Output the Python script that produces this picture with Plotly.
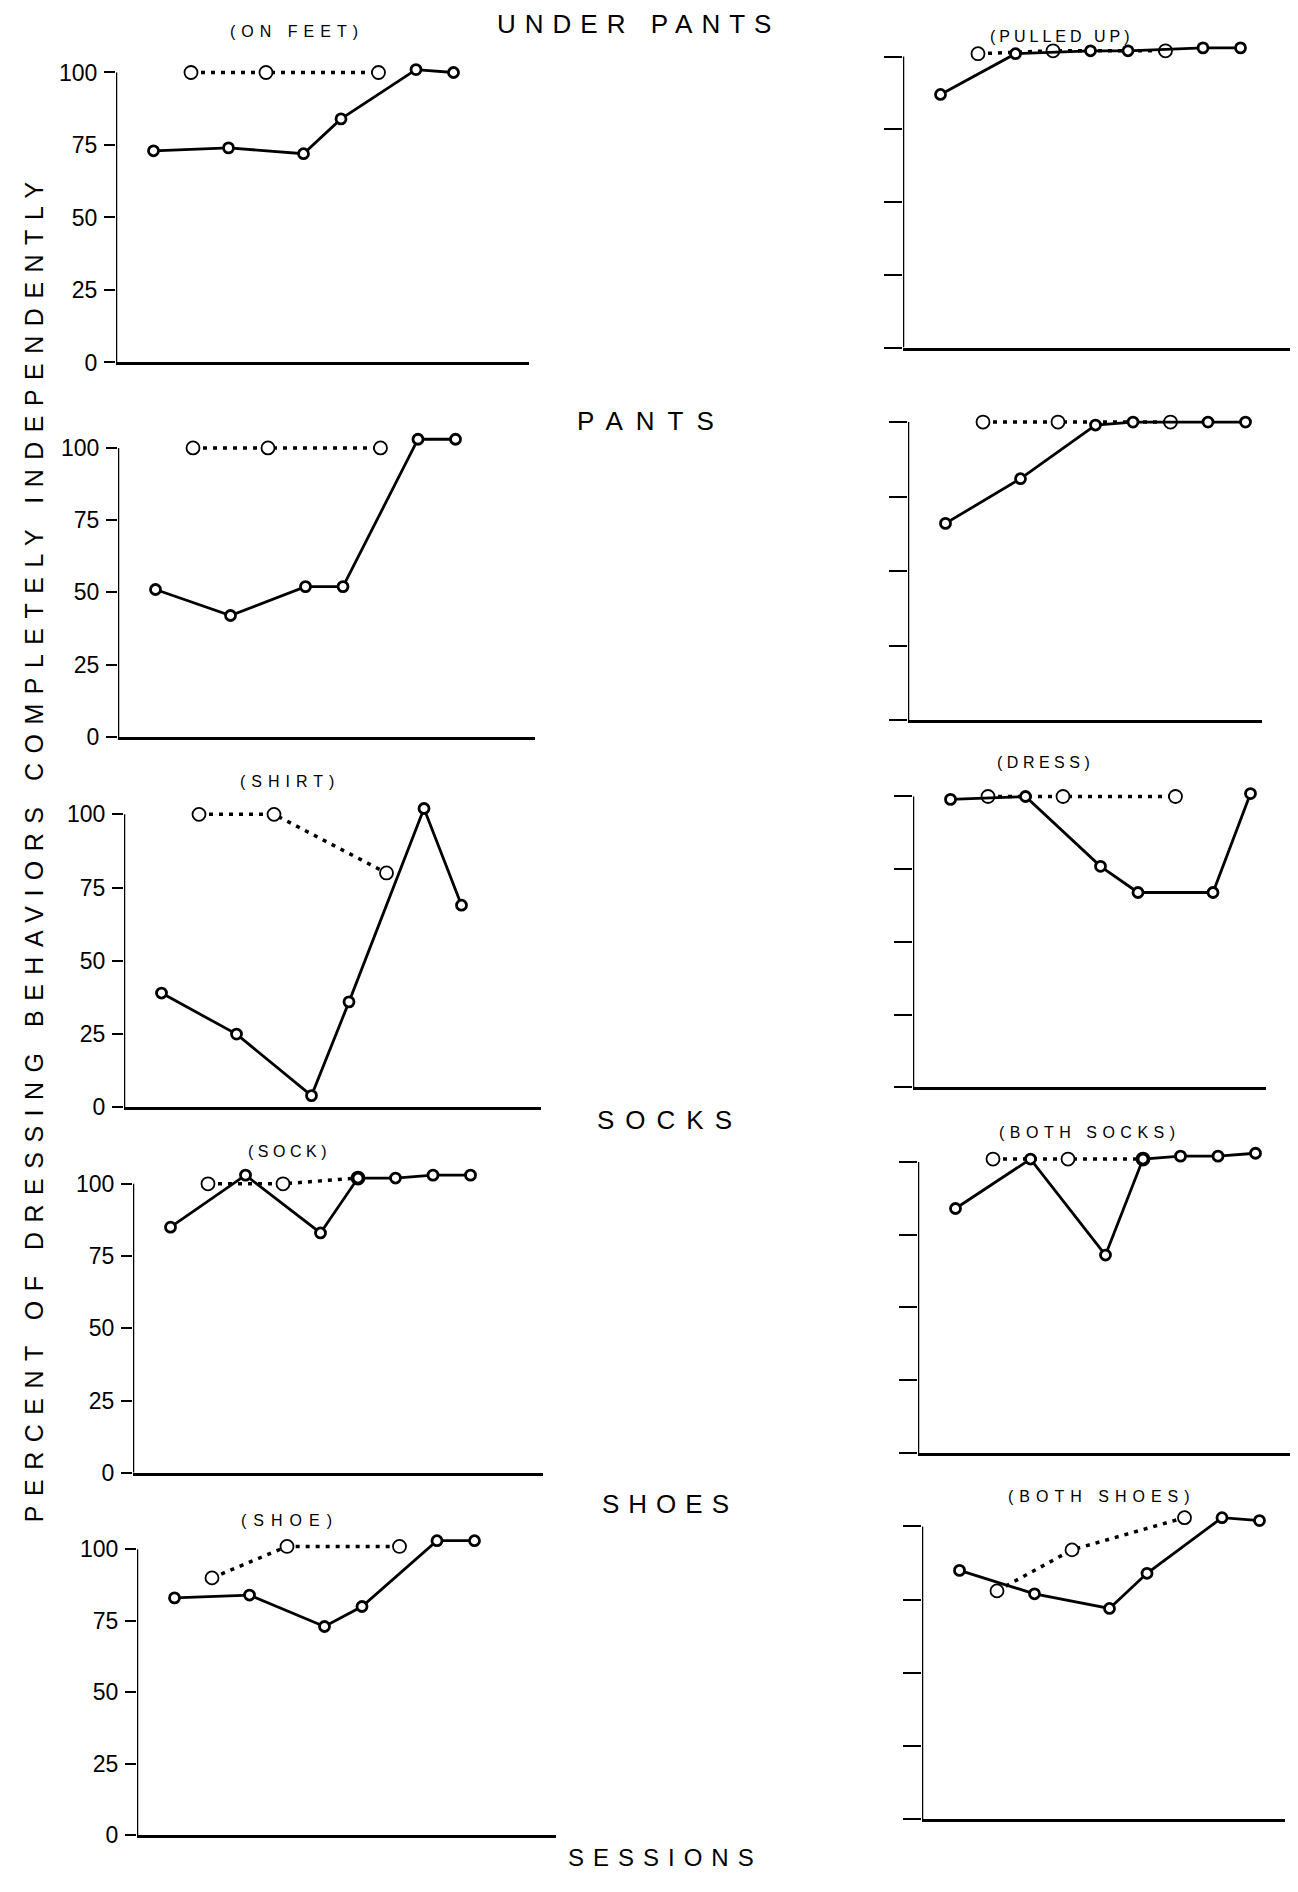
import plotly.graph_objects as go

# ---------------- data (percent completely independent, by session) ----------------
# solid line = training sessions, dotted line with open circles = probe sessions
onfeet_train_x = [1, 3, 5, 6, 8, 9]
onfeet_train_y = [73, 74, 72, 84, 101, 100]
onfeet_probe_x = [2, 4, 7]
onfeet_probe_y = [100, 100, 100]

pulledup_train_x = [1, 3, 5, 6, 8, 9]
pulledup_train_y = [87, 101, 102, 102, 103, 103]
pulledup_probe_x = [2, 4, 7]
pulledup_probe_y = [101, 102, 102]

pants_train_x = [1, 3, 5, 6, 8, 9]
pants_train_y = [51, 42, 52, 52, 103, 103]
pants_probe_x = [2, 4, 7]
pants_probe_y = [100, 100, 100]

pants2_train_x = [1, 3, 5, 6, 8, 9]
pants2_train_y = [66, 81, 99, 100, 100, 100]
pants2_probe_x = [2, 4, 7]
pants2_probe_y = [100, 100, 100]

shirt_train_x = [1, 3, 5, 6, 8, 9]
shirt_train_y = [39, 25, 4, 36, 102, 69]
shirt_probe_x = [2, 4, 7]
shirt_probe_y = [100, 100, 80]

dress_train_x = [1, 3, 5, 6, 8, 9]
dress_train_y = [99, 100, 76, 67, 67, 101]
dress_probe_x = [2, 4, 7]
dress_probe_y = [100, 100, 100]

sock_train_x = [1, 3, 5, 6, 7, 8, 9]
sock_train_y = [85, 103, 83, 102, 102, 103, 103]
sock_probe_x = [2, 4, 6]
sock_probe_y = [100, 100, 102]

bothsocks_train_x = [1, 3, 5, 6, 7, 8, 9]
bothsocks_train_y = [84, 101, 68, 101, 102, 102, 103]
bothsocks_probe_x = [2, 4, 6]
bothsocks_probe_y = [101, 101, 101]

shoe_train_x = [1, 3, 5, 6, 8, 9]
shoe_train_y = [83, 84, 73, 80, 103, 103]
shoe_probe_x = [2, 4, 7]
shoe_probe_y = [90, 101, 101]

bothshoes_train_x = [1, 3, 5, 6, 8, 9]
bothshoes_train_y = [85, 77, 72, 84, 103, 102]
bothshoes_probe_x = [2, 4, 7]
bothshoes_probe_y = [78, 92, 103]

y_ticks = [0, 25, 50, 75, 100]
y_tick_labels = ["0", "25", "50", "75", "100"]

# ---------------- layout (pixel geometry of the page) ----------------
W, H = 1298, 1892
SPACING = 37.5  # px per session

# (train_x, train_y, probe_x, probe_y, axis_px, xend_px, y0_px, y100_px, left_labels)
panels = [
    (onfeet_train_x, onfeet_train_y, onfeet_probe_x, onfeet_probe_y, 116, 529, 365, 73, True),
    (pulledup_train_x, pulledup_train_y, pulledup_probe_x, pulledup_probe_y, 903, 1290, 350, 57, False),
    (pants_train_x, pants_train_y, pants_probe_x, pants_probe_y, 118, 535, 742, 451, True),
    (pants2_train_x, pants2_train_y, pants2_probe_x, pants2_probe_y, 908, 1262, 725, 425, False),
    (shirt_train_x, shirt_train_y, shirt_probe_x, shirt_probe_y, 124, 541, 1115, 820, True),
    (dress_train_x, dress_train_y, dress_probe_x, dress_probe_y, 913, 1266, 1095, 802, False),
    (sock_train_x, sock_train_y, sock_probe_x, sock_probe_y, 133, 543, 1483, 1192, True),
    (bothsocks_train_x, bothsocks_train_y, bothsocks_probe_x, bothsocks_probe_y, 918, 1290, 1463, 1170, False),
    (shoe_train_x, shoe_train_y, shoe_probe_x, shoe_probe_y, 137, 556, 1848, 1560, True),
    (bothshoes_train_x, bothshoes_train_y, bothshoes_probe_x, bothshoes_probe_y, 922, 1285, 1832, 1537, False),
]

FONT = "Liberation Sans, Arial, sans-serif"
fig = go.Figure()
shapes = []
layout_axes = {}
YMAX = 106

for i, (tx, ty, px, py, ax_px, xend, y0, y100, lab) in enumerate(panels, start=1):
    sfx = "" if i == 1 else str(i)
    xref, yref = "x" + sfx, "y" + sfx
    xmax = (xend - ax_px) / SPACING
    unit = (y0 - y100) / 100.0
    ytop = y100 - (YMAX - 100) * unit

    fig.add_trace(go.Scatter(
        x=px, y=py, xaxis=xref, yaxis=yref, mode="lines+markers",
        line=dict(color="black", width=3.5, dash="4px,6px"),
        marker=dict(symbol="circle", size=13, color="white",
                    line=dict(color="black", width=1.8)),
        cliponaxis=False, showlegend=False, hoverinfo="x+y"))
    fig.add_trace(go.Scatter(
        x=tx, y=ty, xaxis=xref, yaxis=yref, mode="lines+markers",
        line=dict(color="black", width=2.8),
        marker=dict(symbol="circle", size=10, color="white",
                    line=dict(color="black", width=2.8)),
        cliponaxis=False, showlegend=False, hoverinfo="x+y"))

    layout_axes["xaxis" + sfx] = dict(
        domain=[ax_px / W, xend / W], range=[0, xmax], anchor=yref,
        showline=True, linecolor="black", linewidth=2.5,
        ticks="", showticklabels=False, showgrid=False, zeroline=False,
        fixedrange=True)
    layout_axes["yaxis" + sfx] = dict(
        domain=[1 - y0 / H, 1 - ytop / H], range=[0, YMAX], anchor=xref,
        tickvals=y_ticks, ticktext=y_tick_labels,
        ticks="outside", ticklen=11 if lab else 18, tickwidth=2.2, tickcolor="black",
        showticklabels=lab, tickfont=dict(size=23, color="black", family=FONT),
        ticklabelstandoff=2,
        showline=False, showgrid=False, zeroline=False, fixedrange=True)
    shapes.append(dict(type="line", xref=xref, yref=yref, x0=0, x1=0, y0=0, y1=100,
                       line=dict(color="black", width=2.5)))


def sp(text, ls):
    return f"<span style='letter-spacing:{ls}px'>{text}</span>"


def ann(text, x_px, y_px, size, ls, angle=0):
    return dict(text=sp(text, ls), x=x_px / W, y=1 - y_px / H, xref="paper", yref="paper",
                showarrow=False, xanchor="center", yanchor="middle", textangle=angle,
                font=dict(size=size, color="black", family=FONT))


annotations = [
    ann("UNDER PANTS", 638, 24, 26, 9),
    ann("(ON FEET)", 297, 32, 16, 6),
    ann("(PULLED UP)", 1062, 37, 16, 4),
    ann("PANTS", 652, 424, 26, 13),
    ann("(SHIRT)", 290, 787, 16, 6),
    ann("(DRESS)", 1045, 768, 16, 4.5),
    ann("SOCKS", 670, 1128, 26, 11),
    ann("(SOCK)", 289, 1159, 16, 4.5),
    ann("(BOTH SOCKS)", 1090, 1140, 16, 5.5),
    ann("SHOES", 670, 1514, 26, 9),
    ann("(SHOE)", 290, 1531, 16, 7),
    ann("(BOTH SHOES)", 1102, 1507, 16, 6),
    ann("SESSIONS", 665, 1870, 24, 9),
    ann("PERCENT OF DRESSING BEHAVIORS COMPLETELY INDEPENDENTLY", 34, 853, 25, 9.5, -90),
]

fig.update_layout(
    width=W, height=H, margin=dict(l=0, r=0, t=0, b=0),
    paper_bgcolor="white", plot_bgcolor="white",
    font=dict(family=FONT, color="black"),
    shapes=shapes, annotations=annotations, showlegend=False,
    **layout_axes)

fig.write_html("out.html", config={"displayModeBar": False},
               post_script="document.body.style.margin='0';")
